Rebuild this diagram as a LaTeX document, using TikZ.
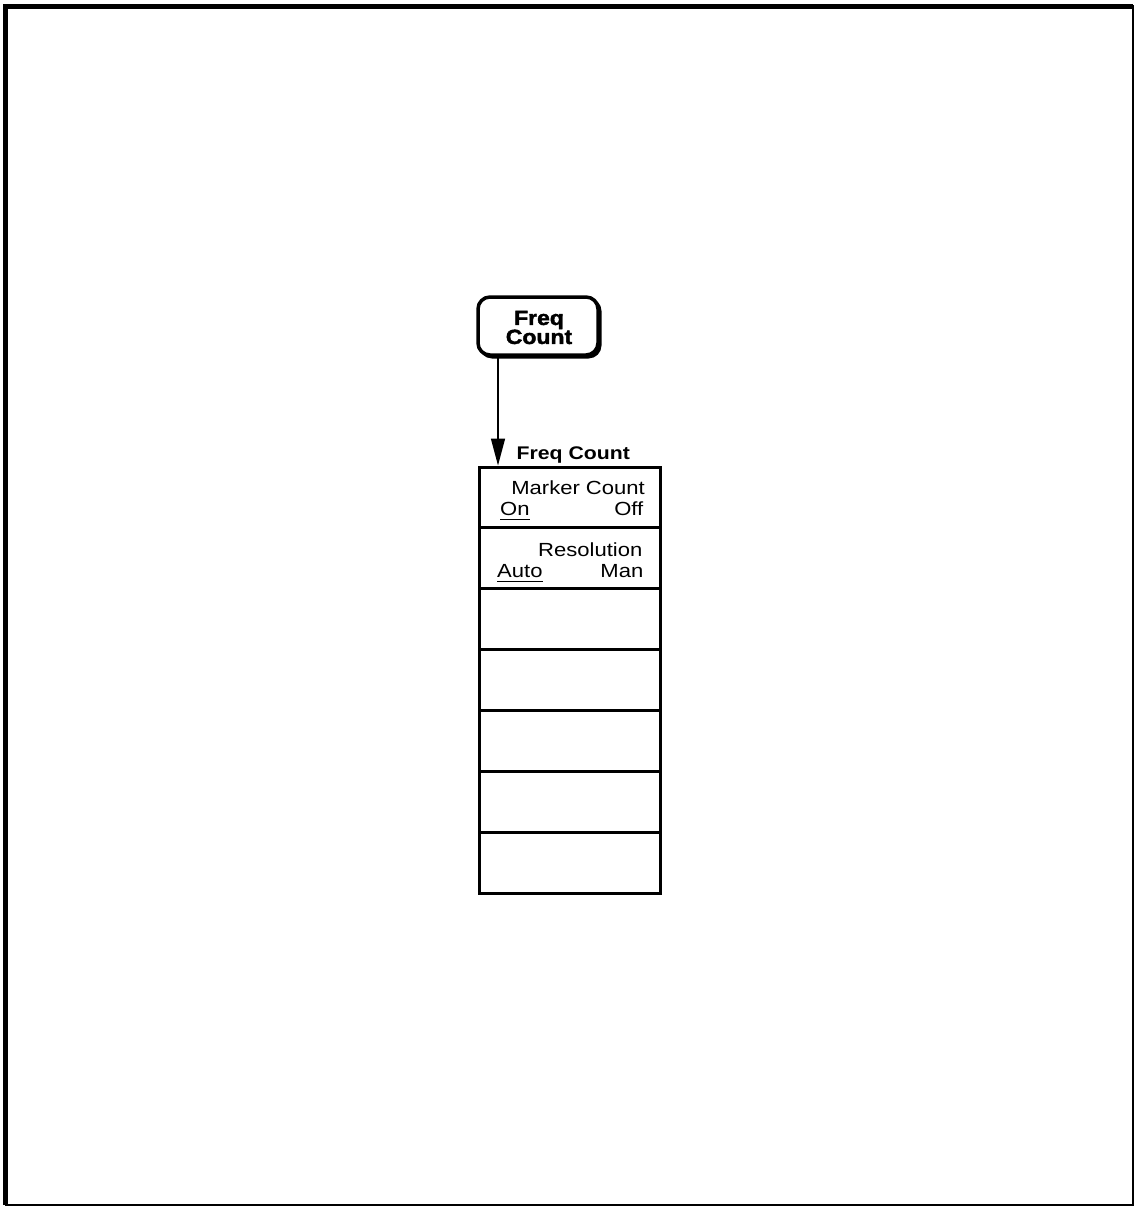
\documentclass[tikz,border=0pt]{standalone}
\usepackage{fontspec}
\setmainfont{Liberation Sans}[FakeStretch=1.16]
\newfontfamily\keyfont{Liberation Sans}[FakeStretch=1.12,BoldFeatures={FakeBold=2}]
\usetikzlibrary{arrows.meta,calc}
\begin{document}
\begin{tikzpicture}[x=1pt,y=-1pt,
  lbl/.style={inner sep=0pt,font=\fontsize{19}{21}\selectfont},
  ttl/.style={inner sep=0pt,font=\fontsize{18.3}{20}\selectfont\bfseries},
  keytext/.style={inner sep=0pt,align=center,font=\keyfont\fontsize{20.5}{20.5}\selectfont\bfseries},
  softkey/.style={draw,line width=3pt,minimum width=181pt,minimum height=60.86pt,inner sep=0pt},
  uline/.style={line width=1.6pt}]
\useasboundingbox (0,0) rectangle (1135,1207);
% frame
\draw[line width=2pt] (5.5,6.5) rectangle (1133,1205);
\draw[line width=5pt] (5.5,1205) -- (5.5,6.5) -- (1133,6.5);
% hard key
\fill[rounded corners=13pt] (479,298) rectangle (601.5,358.5);
\draw[fill=white,line width=3.5pt,rounded corners=12pt] (478,297) rectangle (598,355);
\node[inner sep=0pt,minimum width=122pt,minimum height=60pt] (key) at (539,327) {};
\node[keytext] (keytxt) at (539,327.5) {Freq\\[-1.5pt]Count};
% menu
\node[ttl,anchor=base west] (title) at (516.5,459.5) {Freq Count};
\foreach \i in {1,...,7}{
  \node[softkey] (row\i) at (569.5,{467+60.86*(\i-0.5)}) {};
}
\node[lbl,anchor=base east] (mc) at (645,494.5) {Marker Count};
\node[lbl,anchor=base west] (on) at (500,515.5) {On};
\node[lbl,anchor=base east] (off) at (643.5,515.5) {Off};
\draw[uline] ([yshift=-4pt]on.base west) -- ([yshift=-4pt]on.base east);
\node[lbl,anchor=base east] (res) at (642.5,556.5) {Resolution};
\node[lbl,anchor=base west] (auto) at (497,577.5) {Auto};
\node[lbl,anchor=base east] (man) at (643.5,577.5) {Man};
\draw[uline] ([yshift=-4pt]auto.base west) -- ([yshift=-4pt]auto.base east);
% connector
\coordinate (ax) at (498,0);
\draw[line width=1.5pt,-{Triangle[length=27pt,width=14pt]}] (key.south -| ax) -- (row1.north -| ax);
\end{tikzpicture}
\end{document}
